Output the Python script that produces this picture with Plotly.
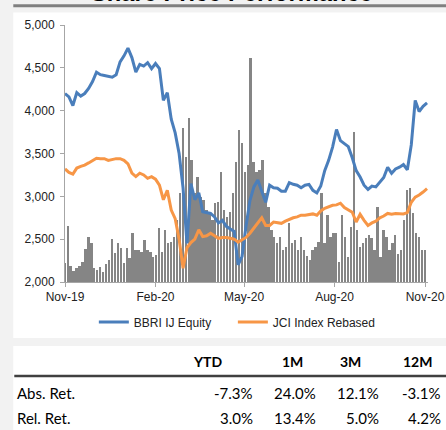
import pandas as pd
import plotly.graph_objects as go

# price lines, sampled every 4 days from 1 Nov 2019
LINE_START = "2019-11-01"
BBRI = [4200, 4160, 4060, 4210, 4170, 4200, 4260, 4340, 4450, 4420,
        4410, 4400, 4390, 4420, 4570, 4640, 4730, 4620, 4450, 4540,
        4520, 4560, 4490, 4550, 4490, 4120, 4210, 3900, 3740, 3500,
        3100, 2450, 3150, 2960, 3040, 2820, 2810, 2800, 2760, 2690,
        2720, 2650, 2620, 2590, 2200, 2300, 2650, 2950, 3110, 3190,
        3060, 2930, 3130, 3100, 3095, 3060, 3060, 3160, 3140, 3130,
        3100, 3130, 3140, 3070, 3040, 3120, 3300, 3420, 3575, 3780,
        3650, 3620, 3580, 3450, 3300, 3225, 3130, 3080, 3120, 3110,
        3160, 3220, 3340, 3270, 3320, 3340, 3370, 3310, 3600, 4120,
        3990, 4050, 4090]
JCI = [3320, 3280, 3260, 3330, 3350, 3365, 3390, 3420, 3445, 3440,
       3440, 3420, 3430, 3440, 3440, 3420, 3380, 3270, 3230, 3270,
       3250, 3210, 3230, 3200, 3130, 2960, 3070, 2840, 2740, 2500,
       2160, 2400, 2460, 2500, 2610, 2530, 2540, 2570, 2540, 2510,
       2520, 2520, 2510, 2500, 2465, 2490, 2520, 2570, 2630, 2685,
       2750, 2660, 2660, 2700, 2690, 2685, 2710, 2730, 2750, 2760,
       2780, 2780, 2785, 2795, 2780, 2830, 2860, 2880, 2895, 2900,
       2920, 2870, 2840, 2815, 2700, 2790, 2720, 2660, 2690, 2710,
       2750, 2770, 2800, 2790, 2800, 2800, 2795, 2810, 2930, 2990,
       3015, 3050, 3090]

# traded volume (relative units), every 3 days
VOLUME = [44, 129, 37, 25, 32, 37, 46, 76, 104, 90,
          32, 28, 35, 23, 41, 51, 99, 67, 90, 78,
          44, 78, 55, 113, 74, 74, 69, 97, 74, 69,
          58, 62, 124, 69, 120, 90, 92, 104, 143, 205,
          354, 288, 377, 281, 205, 242, 196, 189, 166, 161,
          143, 182, 184, 253, 166, 150, 161, 205, 276, 350,
          320, 253, 269, 515, 276, 253, 258, 281, 205, 173,
          120, 104, 90, 104, 74, 81, 136, 90, 97, 74,
          104, 74, 60, 51, 74, 81, 92, 205, 90, 154,
          104, 113, 113, 46, 154, 104, 58, 127, 345, 120,
          81, 90, 101, 108, 101, 74, 173, 58, 120, 104,
          74, 90, 108, 64, 74, 143, 212, 216, 159, 113,
          104, 74, 74]

TICK_DATES = ["2019-11-01", "2020-02-01", "2020-05-01", "2020-08-01", "2020-11-01"]
TICK_LABELS = ["Nov-19", "Feb-20", "May-20", "Aug-20", "Nov-20"]

TABLE_COLS = ["YTD", "1M", "3M", "12M"]
TABLE_ROWS = ["Abs. Ret.", "Rel. Ret."]
TABLE_VALUES = [["-7.3%", "24.0%", "12.1%", "-3.1%"],
                ["3.0%", "13.4%", "5.0%", "4.2%"]]

BLUE = "#4a7ebb"
ORANGE = "#f79646"

# the snapshot squeezes the page a little horizontally, so lay out slightly wider
SX = 1.025
W, H = 446, 430
L, R, T, B = 63, 428, 25, 282  # plot area in reference pixels


def px(x):
    return (x - L) / (R - L)


def py(y):
    return (B - y) / (B - T)


line_dates = pd.date_range(LINE_START, periods=len(BBRI), freq="4D")
vol_dates = pd.date_range(LINE_START, periods=len(VOLUME), freq="3D")

fig = go.Figure()
fig.add_trace(go.Bar(
    x=vol_dates, y=VOLUME, yaxis="y", marker_color="#858585",
    marker_line_width=0, width=86400000 * 1.9, showlegend=False,
))
fig.add_trace(go.Scatter(
    x=line_dates, y=BBRI, yaxis="y2", mode="lines",
    name="BBRI IJ Equity" + "\u00a0" * 5,  # pad so the second entry sits further right
    line=dict(color=BLUE, width=3),
))
fig.add_trace(go.Scatter(
    x=line_dates, y=JCI, yaxis="y2", mode="lines", name="JCI Index Rebased",
    line=dict(color=ORANGE, width=3),
))

shapes = [
    dict(type="rect", xref="paper", yref="paper", x0=px(11), x1=px(460), y0=py(338), y1=py(12.5),
         fillcolor="white", line_width=0, layer="below"),
    dict(type="rect", xref="paper", yref="paper", x0=px(11), x1=px(460), y0=py(431), y1=py(346),
         fillcolor="white", line_width=0, layer="below"),
    dict(type="line", xref="paper", yref="paper", x0=px(11), x1=px(460), y0=py(5.8), y1=py(5.8),
         line=dict(color="#808080", width=3)),
    dict(type="line", xref="paper", yref="paper", x0=px(12), x1=px(460), y0=py(376), y1=py(376),
         line=dict(color="#404040", width=2.5)),
]

annotations = [
    dict(text="<b>Share Price Performance</b>", xref="paper", yref="paper",
         x=px(231), y=py(7.8), xanchor="center", yanchor="bottom", showarrow=False,
         font=dict(family="Liberation Sans, Arial", size=23.7, color="#000")),
]

col_head_right = [222, 303, 362, 433]
col_val_right = [253, 316, 380, 442]
for name, xr in zip(TABLE_COLS, col_head_right):
    annotations.append(dict(
        text=f"<b>{name}</b>", xref="paper", yref="paper", x=px(xr + 1), y=py(361),
        xanchor="right", yanchor="middle", showarrow=False,
        font=dict(family="Lato", size=14, color="#000")))
for row, vals, yy in zip(TABLE_ROWS, TABLE_VALUES, [393, 418]):
    annotations.append(dict(
        text=row, xref="paper", yref="paper", x=px(13), y=py(yy),
        xanchor="left", yanchor="middle", showarrow=False,
        font=dict(family="Lato", size=15, color="#000")))
    for v, xr in zip(vals, col_val_right):
        annotations.append(dict(
            text=v, xref="paper", yref="paper", x=px(xr + 1), y=py(yy),
            xanchor="right", yanchor="middle", showarrow=False,
            font=dict(family="Lato", size=15, color="#000")))

fig.update_layout(
    width=round(W * SX), height=H,
    margin=dict(l=L * SX, r=round(W * SX) - R * SX, t=T, b=H - B),
    paper_bgcolor="#f2f2f2", plot_bgcolor="rgba(0,0,0,0)",
    font=dict(family="Liberation Sans, Arial", size=12, color="#222"),
    bargap=0,
    xaxis=dict(
        type="date", range=["2019-11-01", "2020-11-04"],
        tickvals=TICK_DATES, ticktext=TICK_LABELS,
        showgrid=False, zeroline=False, showline=True, linecolor="#a6a6a6", linewidth=1,
        ticks="outside", ticklen=4, tickcolor="#a6a6a6",
    ),
    yaxis=dict(range=[0, 591], visible=False, fixedrange=True),
    yaxis2=dict(
        overlaying="y", side="left", range=[2000, 5000], dtick=500, tickformat=",",
        showgrid=False, zeroline=False, showline=True, linecolor="#a6a6a6", linewidth=1,
        ticks="outside", ticklen=4, tickcolor="#a6a6a6", ticklabelstandoff=3,
    ),
    legend=dict(orientation="h", x=px(92), xanchor="left", y=py(322), yanchor="middle",
                font=dict(size=12, color="#222"), bgcolor="rgba(0,0,0,0)"),
    shapes=shapes,
    annotations=annotations,
)

# pin the figure to the window's top-left corner, with no page margin or scrollbars
page_js = (
    "document.body.style.margin='0';"
    "document.body.style.overflow='hidden';"
    "document.documentElement.style.overflow='hidden';"
)
fig.write_html("out.html", config={"displayModeBar": False}, post_script=page_js)
